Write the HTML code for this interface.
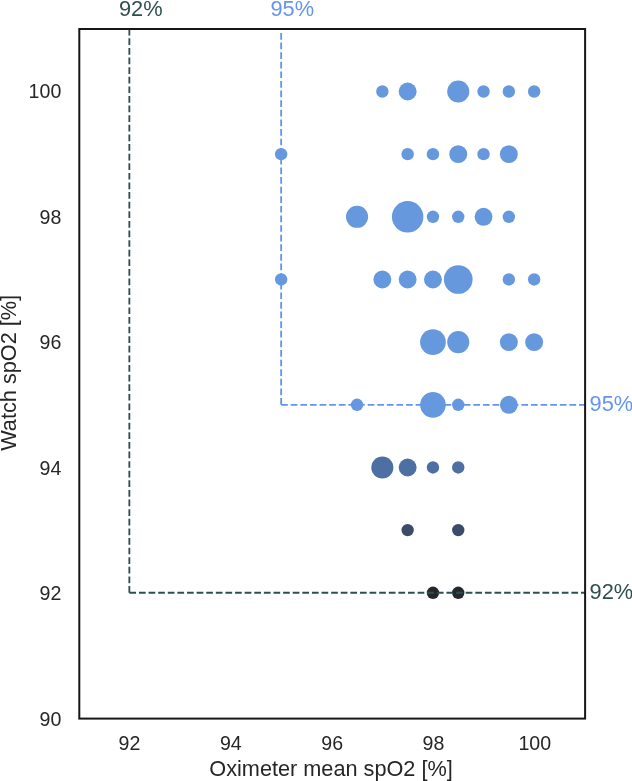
<!DOCTYPE html>
<html><head><meta charset="utf-8"><style>
html,body{margin:0;padding:0;background:#fff;width:632px;height:781px;overflow:hidden}
svg{display:block;will-change:transform}
text{font-family:"Liberation Sans",sans-serif}
</style></head><body>
<svg width="632" height="781" viewBox="0 0 632 781">
<rect width="632" height="781" fill="#fff"/>
<defs><clipPath id="c"><rect x="79.3" y="29.0" width="505.80" height="689.60"/></clipPath></defs>

<g clip-path="url(#c)">
<circle cx="382.35" cy="91.50" r="6.20" fill="#6698dd"/>
<circle cx="407.65" cy="91.50" r="8.95" fill="#6698dd"/>
<circle cx="458.25" cy="91.50" r="11.05" fill="#6698dd"/>
<circle cx="483.55" cy="91.50" r="6.20" fill="#6698dd"/>
<circle cx="508.85" cy="91.50" r="6.20" fill="#6698dd"/>
<circle cx="534.15" cy="91.50" r="6.20" fill="#6698dd"/>
<circle cx="281.15" cy="154.16" r="6.20" fill="#6698dd"/>
<circle cx="407.65" cy="154.16" r="6.20" fill="#6698dd"/>
<circle cx="432.95" cy="154.16" r="6.20" fill="#6698dd"/>
<circle cx="458.25" cy="154.16" r="8.95" fill="#6698dd"/>
<circle cx="483.55" cy="154.16" r="6.20" fill="#6698dd"/>
<circle cx="508.85" cy="154.16" r="8.95" fill="#6698dd"/>
<circle cx="357.05" cy="216.82" r="11.05" fill="#6698dd"/>
<circle cx="407.65" cy="216.82" r="15.75" fill="#6698dd"/>
<circle cx="432.95" cy="216.82" r="6.20" fill="#6698dd"/>
<circle cx="458.25" cy="216.82" r="6.20" fill="#6698dd"/>
<circle cx="483.55" cy="216.82" r="8.95" fill="#6698dd"/>
<circle cx="508.85" cy="216.82" r="6.20" fill="#6698dd"/>
<circle cx="281.15" cy="279.48" r="6.20" fill="#6698dd"/>
<circle cx="382.35" cy="279.48" r="8.95" fill="#6698dd"/>
<circle cx="407.65" cy="279.48" r="8.95" fill="#6698dd"/>
<circle cx="432.95" cy="279.48" r="8.95" fill="#6698dd"/>
<circle cx="458.25" cy="279.48" r="14.35" fill="#6698dd"/>
<circle cx="508.85" cy="279.48" r="6.20" fill="#6698dd"/>
<circle cx="534.15" cy="279.48" r="6.20" fill="#6698dd"/>
<circle cx="432.95" cy="342.14" r="12.85" fill="#6698dd"/>
<circle cx="458.25" cy="342.14" r="11.05" fill="#6698dd"/>
<circle cx="508.85" cy="342.14" r="8.95" fill="#6698dd"/>
<circle cx="534.15" cy="342.14" r="8.95" fill="#6698dd"/>
<circle cx="357.05" cy="404.80" r="6.20" fill="#6698dd"/>
<circle cx="432.95" cy="404.80" r="12.85" fill="#6698dd"/>
<circle cx="458.25" cy="404.80" r="6.20" fill="#6698dd"/>
<circle cx="508.85" cy="404.80" r="8.95" fill="#6698dd"/>
<circle cx="382.35" cy="467.46" r="11.05" fill="#4e6fa3"/>
<circle cx="407.65" cy="467.46" r="8.95" fill="#4e6fa3"/>
<circle cx="432.95" cy="467.46" r="6.20" fill="#4e6fa3"/>
<circle cx="458.25" cy="467.46" r="6.20" fill="#4e6fa3"/>
<circle cx="407.65" cy="530.12" r="6.20" fill="#3a4c69"/>
<circle cx="458.25" cy="530.12" r="6.20" fill="#3a4c69"/>
<circle cx="432.95" cy="592.78" r="6.20" fill="#24272c"/>
<circle cx="458.25" cy="592.78" r="6.20" fill="#24272c"/>
<line x1="129.35" y1="592.78" x2="129.35" y2="24.0" stroke="#2f4f4f" stroke-width="1.85" stroke-dasharray="6.71 2.899"/>
<line x1="129.35" y1="592.78" x2="590.1" y2="592.78" stroke="#2f4f4f" stroke-width="1.85" stroke-dasharray="6.71 2.899"/>
<line x1="281.15" y1="404.80" x2="281.15" y2="24.0" stroke="#6495ed" stroke-width="1.85" stroke-dasharray="6.71 2.899"/>
<line x1="281.15" y1="404.80" x2="590.1" y2="404.80" stroke="#6495ed" stroke-width="1.85" stroke-dasharray="6.71 2.899"/>
</g>
<rect x="79.3" y="29.0" width="505.80" height="689.60" fill="none" stroke="#161616" stroke-width="2"/>
<text x="129.50" y="749.6" font-size="19.6" fill="#262626" text-anchor="middle">92</text>
<text x="230.82" y="749.6" font-size="19.6" fill="#262626" text-anchor="middle">94</text>
<text x="332.14" y="749.6" font-size="19.6" fill="#262626" text-anchor="middle">96</text>
<text x="433.46" y="749.6" font-size="19.6" fill="#262626" text-anchor="middle">98</text>
<text x="534.78" y="749.6" font-size="19.6" fill="#262626" text-anchor="middle">100</text>
<text x="61.3" y="725.76" font-size="19.6" fill="#262626" text-anchor="end">90</text>
<text x="61.3" y="600.30" font-size="19.6" fill="#262626" text-anchor="end">92</text>
<text x="61.3" y="474.84" font-size="19.6" fill="#262626" text-anchor="end">94</text>
<text x="61.3" y="349.38" font-size="19.6" fill="#262626" text-anchor="end">96</text>
<text x="61.3" y="223.92" font-size="19.6" fill="#262626" text-anchor="end">98</text>
<text x="61.3" y="98.46" font-size="19.6" fill="#262626" text-anchor="end">100</text>
<text x="209.3" y="775.7" font-size="21.7" fill="#262626">Oximeter mean spO2 [%]</text>
<text transform="translate(16.2,450.8) rotate(-90)" font-size="21.7" fill="#262626">Watch spO2 [%]</text>
<text x="119.0" y="15.9" font-size="21.8" fill="#2f4f4f">92%</text>
<text x="270.5" y="15.9" font-size="21.8" fill="#6495ed">95%</text>
<text x="589.6" y="410.7" font-size="21.8" fill="#6495ed">95%</text>
<text x="589.6" y="598.8" font-size="21.8" fill="#2f4f4f">92%</text>
</svg></body></html>
